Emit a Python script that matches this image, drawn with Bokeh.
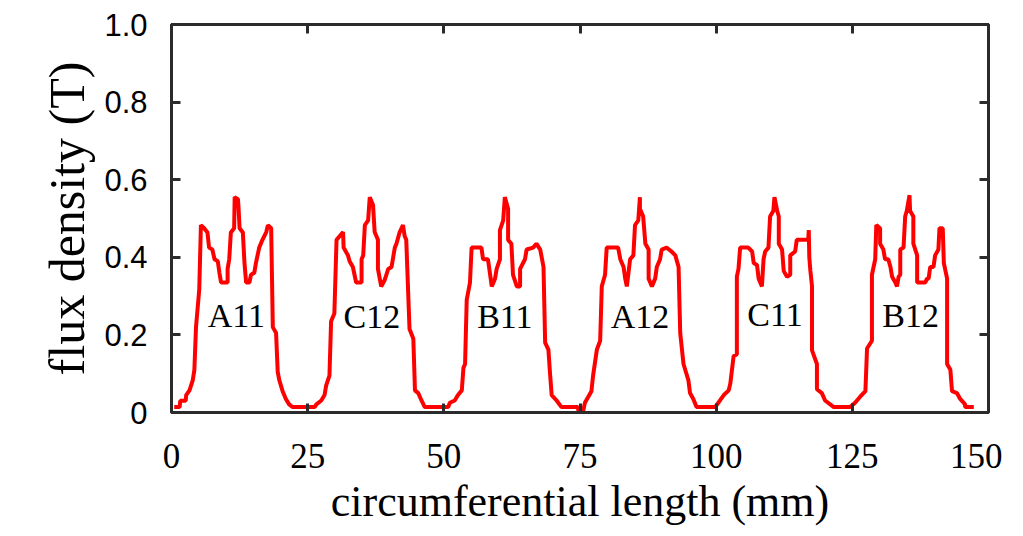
from bokeh.plotting import figure
from bokeh.models import LinearAxis, FixedTicker, Range1d, ColumnDataSource, PrintfTickFormatter
from bokeh.core.properties import value
from bokeh.embed import file_html
from bokeh.resources import INLINE

# circumferential length (mm)
flux_x = [
    0.5, 1.5, 1.6, 2.6, 2.7, 3.3, 3.9, 4.2, 4.5, 5.1, 5.4, 6.0, 6.6, 6.9, 7.5, 7.9, 8.5, 8.8, 9.1, 10.3,
    10.3, 10.6, 10.9, 11.5, 11.6, 12.2, 12.3, 12.5, 13.1, 13.4, 13.7, 14.3, 14.6, 15.2, 15.5, 16.1, 16.7,
    17.4, 17.7, 18.3, 18.6, 19.2, 19.5, 19.8, 20.4, 21.0, 21.6, 22.2,
    26.3, 26.6, 27.5, 28.1, 28.4, 29.0, 29.3, 29.9, 30.3, 30.9, 31.5, 31.6, 32.4, 32.7, 33.3, 33.6, 33.9,
    34.9, 34.9, 35.2, 35.5, 36.1, 36.4, 37.0, 37.3, 37.9, 37.9, 38.5, 39.1, 39.8, 40.4, 41.0, 41.3, 41.9,
    42.5, 42.8, 43.1, 43.7, 44.4, 44.7, 45.3, 45.9, 46.5,
    50.8, 51.1, 52.0, 52.6, 53.3, 53.6, 53.9, 54.2, 54.8, 55.1, 56.9, 57.2, 58.1, 58.5, 58.8, 59.4, 59.7,
    60.3, 60.3, 60.9, 61.2, 61.8, 61.8, 62.4, 62.7, 63.4, 64.0, 64.0, 64.9, 65.2, 66.4, 67.0, 67.7, 68.3,
    68.6, 69.2, 69.5, 69.8, 70.7, 71.6,
    74.6, 74.7, 75.6, 75.9, 76.5, 77.1, 77.4, 78.1, 78.7, 79.0, 79.6, 79.9, 82.0, 82.4, 83.0, 83.3, 83.6,
    84.2, 84.8, 85.1, 85.7, 86.0, 86.0, 86.6, 87.0, 87.6, 87.6, 88.2, 88.8, 89.1, 89.7, 90.0, 90.9, 91.8,
    92.5, 93.1, 93.4, 94.0, 94.9, 95.2, 95.8, 96.4,
    99.8, 100.7, 101.4, 102.3, 102.6, 103.2, 103.8, 103.8, 104.1, 104.4, 105.9, 106.6, 106.9, 107.5,
    107.8, 108.4, 108.7, 109.0, 109.6, 109.9, 110.5, 110.7, 111.2, 111.5, 111.5, 112.1, 112.4, 113.0,
    113.6, 113.6, 114.5, 114.8, 116.9, 117.0, 117.1, 117.3, 117.6, 117.6, 118.5, 118.5, 119.4, 120.0,
    121.6, 124.6, 125.5, 126.4, 127.4, 127.7, 128.6, 128.6, 129.2, 129.4, 130.1, 130.1, 130.7, 131.0,
    131.6, 132.0, 132.3, 132.9, 133.2, 133.5, 133.8, 133.8, 134.4, 134.7, 135.0, 135.5, 135.6, 136.2,
    136.2, 136.9, 136.9, 138.4, 138.7, 139.0, 139.3, 139.9, 140.2, 140.8, 141.0, 141.6, 141.8, 142.4,
    142.4, 143.0, 143.3, 144.2, 144.8, 145.7, 145.7, 147.3,
]
# flux density (T)
flux_b = [
    0.014, 0.014, 0.03, 0.03, 0.045, 0.057, 0.083, 0.11, 0.22, 0.318, 0.483, 0.475, 0.464, 0.425, 0.42,
    0.395, 0.39, 0.36, 0.335, 0.335, 0.37, 0.395, 0.464, 0.475, 0.555, 0.55, 0.53, 0.475, 0.464, 0.385,
    0.335, 0.335, 0.355, 0.36, 0.385, 0.425, 0.445, 0.465, 0.483, 0.475, 0.22, 0.205, 0.105, 0.083,
    0.055, 0.035, 0.021, 0.014,
    0.014, 0.021, 0.031, 0.045, 0.07, 0.095, 0.235, 0.255, 0.445, 0.455, 0.465, 0.425, 0.405, 0.39,
    0.375, 0.355, 0.335, 0.335, 0.395, 0.405, 0.483, 0.495, 0.555, 0.535, 0.465, 0.445, 0.37, 0.325,
    0.34, 0.37, 0.375, 0.425, 0.435, 0.465, 0.483, 0.455, 0.445, 0.215, 0.19, 0.057, 0.05, 0.031, 0.014,
    0.014, 0.025, 0.031, 0.045, 0.057, 0.115, 0.125, 0.29, 0.335, 0.425, 0.425, 0.395, 0.395, 0.355,
    0.325, 0.345, 0.37, 0.395, 0.47, 0.495, 0.555, 0.525, 0.445, 0.435, 0.355, 0.325, 0.325, 0.37,
    0.395, 0.42, 0.425, 0.435, 0.42, 0.375, 0.18, 0.162, 0.1, 0.045, 0.031, 0.014,
    0.014, 0.005, 0.005, 0.025, 0.04, 0.055, 0.095, 0.162, 0.185, 0.325, 0.355, 0.425, 0.425, 0.395,
    0.375, 0.345, 0.325, 0.395, 0.405, 0.483, 0.495, 0.555, 0.525, 0.505, 0.435, 0.42, 0.345, 0.325,
    0.345, 0.375, 0.395, 0.42, 0.425, 0.415, 0.405, 0.375, 0.205, 0.125, 0.083, 0.05, 0.035, 0.014,
    0.014, 0.031, 0.045, 0.057, 0.075, 0.145, 0.15, 0.35, 0.37, 0.425, 0.425, 0.415, 0.385, 0.38,
    0.345, 0.325, 0.395, 0.415, 0.425, 0.505, 0.52, 0.555, 0.52, 0.505, 0.435, 0.42, 0.365, 0.35,
    0.355, 0.405, 0.415, 0.445, 0.445, 0.47, 0.40, 0.365, 0.325, 0.16, 0.125, 0.06, 0.05, 0.031,
    0.014, 0.014, 0.025, 0.04, 0.055, 0.165, 0.185, 0.355, 0.395, 0.483, 0.475, 0.435, 0.42, 0.395,
    0.395, 0.375, 0.35, 0.335, 0.325, 0.35, 0.355, 0.42, 0.425, 0.505, 0.52, 0.56, 0.52, 0.505,
    0.435, 0.405, 0.335, 0.335, 0.345, 0.345, 0.375, 0.375, 0.405, 0.42, 0.475, 0.475, 0.385, 0.345,
    0.125, 0.11, 0.055, 0.05, 0.035, 0.021, 0.014, 0.014,
]

coil_names = ["A11", "C12", "B11", "A12", "C11", "B12"]
coil_x = [11.9, 36.8, 61.2, 86.0, 110.8, 135.7]
coil_y = [0.25, 0.247, 0.247, 0.247, 0.252, 0.25]

x_ticks = [0, 25, 50, 75, 100, 125, 150]
y_ticks = [0, 0.2, 0.4, 0.6, 0.8, 1.0]

AX = "#2b2b2b"

p = figure(width=1002, height=534, output_backend="svg", toolbar_location=None,
           x_range=Range1d(0, 150), y_range=Range1d(0, 1.0),
           min_border_left=171, min_border_right=14, min_border_top=24, min_border_bottom=122)
p.grid.visible = False
p.background_fill_color = "white"
p.border_fill_color = "white"
p.outline_line_color = AX
p.outline_line_width = 3

p.line(flux_x, flux_b, line_color="#ff0000", line_width=4)

src = ColumnDataSource(dict(x=coil_x, y=coil_y, t=coil_names))
p.text(x="x", y="y", text="t", source=src, text_font=value("Liberation Serif"),
       text_font_size="34px", text_color="black", text_align="center", text_baseline="middle")

def style(ax, labels=True):
    ax.axis_line_color = AX
    ax.axis_line_width = 3
    ax.major_tick_line_color = AX
    ax.major_tick_line_width = 3
    ax.major_tick_in = 9
    ax.major_tick_out = 0
    ax.minor_tick_line_color = None
    if not labels:
        ax.major_label_text_font_size = "0px"
        ax.major_label_text_color = None

xa = p.xaxis[0]
xa.ticker = FixedTicker(ticks=x_ticks)
style(xa)
xa.major_label_text_font = "Liberation Sans Narrow"
xa.major_label_text_font_size = "35px"
xa.major_label_text_color = "black"
xa.major_label_standoff = 31
xa.axis_label = "circumferential length (mm)"
xa.axis_label_text_font = "Liberation Serif"
xa.axis_label_text_font_style = "normal"
xa.axis_label_text_font_size = "44px"
xa.axis_label_text_color = "black"
xa.axis_label_standoff = 6

ya = p.yaxis[0]
ya.ticker = FixedTicker(ticks=y_ticks)
ya.formatter = PrintfTickFormatter(format="%.1f")
ya.major_label_overrides = {0: "0"}
style(ya)
ya.major_label_text_font = "Liberation Sans"
ya.major_label_text_font_size = "31px"
ya.major_label_text_color = "black"
ya.major_label_standoff = 24
ya.axis_label = "flux density (T)"
ya.axis_label_text_font = "Liberation Serif"
ya.axis_label_text_font_style = "normal"
ya.axis_label_text_font_size = "50px"
ya.axis_label_text_color = "black"
ya.axis_label_standoff = 6

top = LinearAxis(ticker=FixedTicker(ticks=x_ticks))
style(top, labels=False)
p.add_layout(top, "above")
right = LinearAxis(ticker=FixedTicker(ticks=y_ticks))
style(right, labels=False)
p.add_layout(right, "right")

open("out.html", "w").write(file_html(p, INLINE))
